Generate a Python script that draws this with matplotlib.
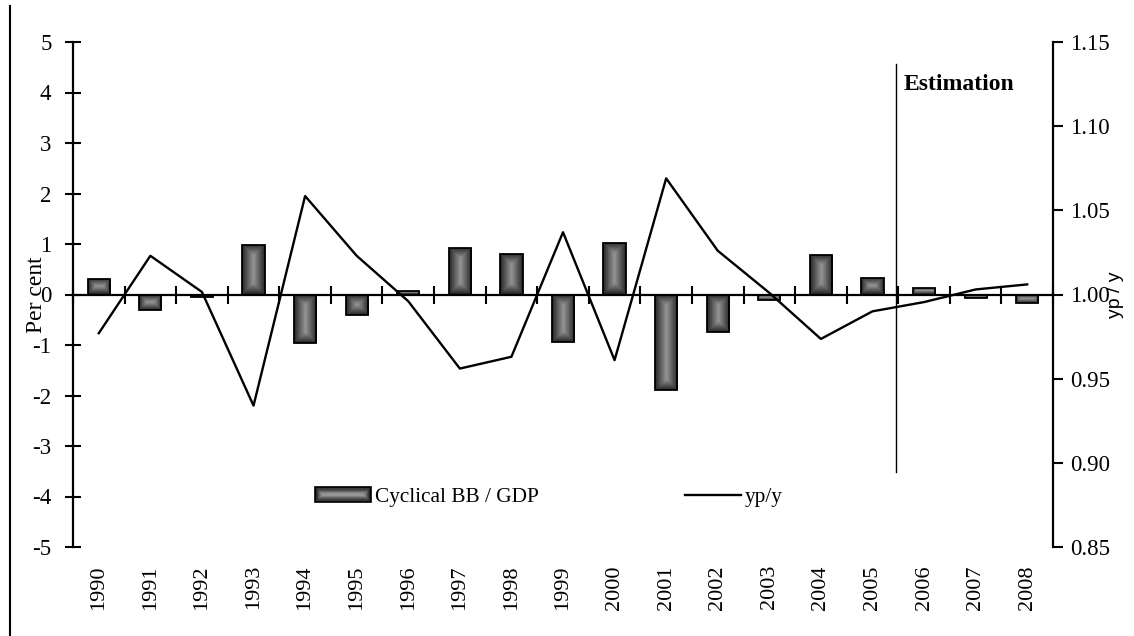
import numpy as np
import matplotlib
matplotlib.use("Agg")
import matplotlib.pyplot as plt
from matplotlib.lines import Line2D
from matplotlib.patches import Patch, Rectangle
from matplotlib.colors import LinearSegmentedColormap
from matplotlib.legend_handler import HandlerBase
import matplotlib.transforms as mtransforms

plt.rcParams['font.family'] = ['Liberation Serif', 'DejaVu Serif']
plt.rcParams['axes.unicode_minus'] = False

years = [str(y) for y in range(1990, 2009)]
cyclical_bb = [0.30, -0.30, -0.05, 0.98, -0.97, -0.41, 0.06, 0.92, 0.80, -0.95,
               1.01, -1.89, -0.74, -0.10, 0.78, 0.33, 0.13, -0.07, -0.17]
yp_y = [0.977, 1.023, 1.0015, 0.934, 1.0585, 1.023, 0.996, 0.956, 0.963, 1.037,
        0.961, 1.069, 1.026, 1.001, 0.9736, 0.990, 0.9955, 1.003, 1.006]
left_ticks = [-5, -4, -3, -2, -1, 0, 1, 2, 3, 4, 5]
right_ticks = [0.85, 0.90, 0.95, 1.00, 1.05, 1.10, 1.15]

W, H = 1134, 636
fig = plt.figure(figsize=(W / 100, H / 100), dpi=100)
ax = fig.add_axes([73 / W, 1 - 547 / H, (1053 - 73) / W, (547 - 42) / H])
ax2 = ax.twinx()

x = np.arange(len(years))
ax.set_xlim(-0.5, len(years) - 0.5)
ax.set_ylim(-5, 5)
ax2.set_ylim(0.85, 1.15)

bars = ax.bar(x, cyclical_bb, width=0.43, facecolor='none', edgecolor='black',
              linewidth=1.3, zorder=3)

# gradient fill for bars (dark edges, lighter centre)
cmap = LinearSegmentedColormap.from_list('g', ['#242424', '#959595'])
fig.canvas.draw()
for b in bars:
    x0, y0, w, h = b.get_x(), b.get_y(), b.get_width(), b.get_height()
    ylo, yhi = min(y0, y0 + h), max(y0, y0 + h)
    p0 = ax.transData.transform((x0, ylo))
    p1 = ax.transData.transform((x0 + w, yhi))
    pw, ph = abs(p1[0] - p0[0]), abs(p1[1] - p0[1])
    if ph < 1:
        continue
    nx = max(int(pw * 2), 4)
    ny = max(int(ph * 2), 4)
    xs = (np.arange(nx) + 0.5) / nx * pw
    ys = (np.arange(ny) + 0.5) / ny * ph
    X, Y = np.meshgrid(xs, ys)
    d = np.minimum(np.minimum(X, pw - X), np.minimum(Y, ph - Y))
    d = np.clip(d / (min(pw, ph) / 2.0), 0, 1)
    im = ax.imshow(d, extent=[x0, x0 + w, ylo, yhi], cmap=cmap, vmin=0, vmax=1,
                   aspect='auto', zorder=2, interpolation='bilinear', origin='lower')
    im.set_clip_path(b)

ax.set_xlim(-0.5, len(years) - 0.5)
ax.set_ylim(-5, 5)

line, = ax2.plot(x, yp_y, color='black', lw=1.7, zorder=4)

# spines
for s in ['top', 'right']:
    ax.spines[s].set_visible(False)
ax.spines['bottom'].set_position(('data', 0))
ax.spines['left'].set_linewidth(1.6)
ax.spines['bottom'].set_linewidth(1.6)
for s in ['top', 'left', 'bottom']:
    ax2.spines[s].set_visible(False)
ax2.spines['right'].set_linewidth(1.6)

ax.set_yticks(left_ticks)
ax.set_yticklabels([str(t) for t in left_ticks])
ax.tick_params(axis='y', direction='inout', length=11, width=1.5, labelsize=16.5, pad=10)
ax.set_xticks(np.arange(-0.5, len(years), 1.0))
ax.tick_params(axis='x', direction='inout', length=13, width=1.5, labelbottom=False)

ax2.set_yticks(right_ticks)
ax2.set_yticklabels([f'{t:.2f}' for t in right_ticks])
ax2.tick_params(axis='y', direction='out', length=7, width=1.5, labelsize=16.5, pad=5)

sec = ax.secondary_xaxis('bottom')
sec.set_xticks(x)
sec.set_xticklabels(years, rotation=90, fontsize=16)
sec.tick_params(length=0, pad=13)
sec.spines['bottom'].set_visible(False)

ax.set_ylabel('Per cent', fontsize=17)
ax.yaxis.set_label_coords(-0.0265, 0.5)
ax2.set_ylabel('yp / y', fontsize=14, family=['Liberation Sans', 'DejaVu Sans'], rotation=90)
ax2.yaxis.set_label_coords(1.055, 0.5)

# estimation marker
ax.axvline(15.45, ymin=0.149, ymax=0.956, color='black', lw=1.0, zorder=5)
trans = mtransforms.blended_transform_factory(ax.transData, ax.transAxes)
ax.text(15.6, 0.915, 'Estimation', transform=trans, fontweight='bold', fontsize=17,
        va='center', ha='left')


class GradientBarHandler(HandlerBase):
    def create_artists(self, legend, orig_handle, xdescent, ydescent, width, height,
                       fontsize, trans):
        arts = []
        n = 6
        step = min(width, height) / (2.0 * n)
        for i in range(n):
            c = cmap(i / (n - 1))
            r = Rectangle((-xdescent + i * step, -ydescent + i * step),
                          width - 2 * i * step, height - 2 * i * step,
                          facecolor=c, edgecolor='black' if i == 0 else 'none',
                          linewidth=1.2 if i == 0 else 0, transform=trans)
            arts.append(r)
        return arts


bar_handle = Patch(facecolor='#555555', edgecolor='black')
fig.legend([bar_handle, line], ['Cyclical BB / GDP', 'yp/y'], loc='center', ncol=2,
           frameon=False, bbox_to_anchor=(549 / W, 1 - 497 / H), fontsize=15.3,
           handlelength=2.6, handletextpad=0.2, columnspacing=6.9,
           handler_map={Patch: GradientBarHandler()})

fig.add_artist(Line2D([10 / W, 10 / W], [1 - 6 / H, 0], transform=fig.transFigure,
                      color='black', lw=1.5))

fig.savefig('out.png', dpi=100)
